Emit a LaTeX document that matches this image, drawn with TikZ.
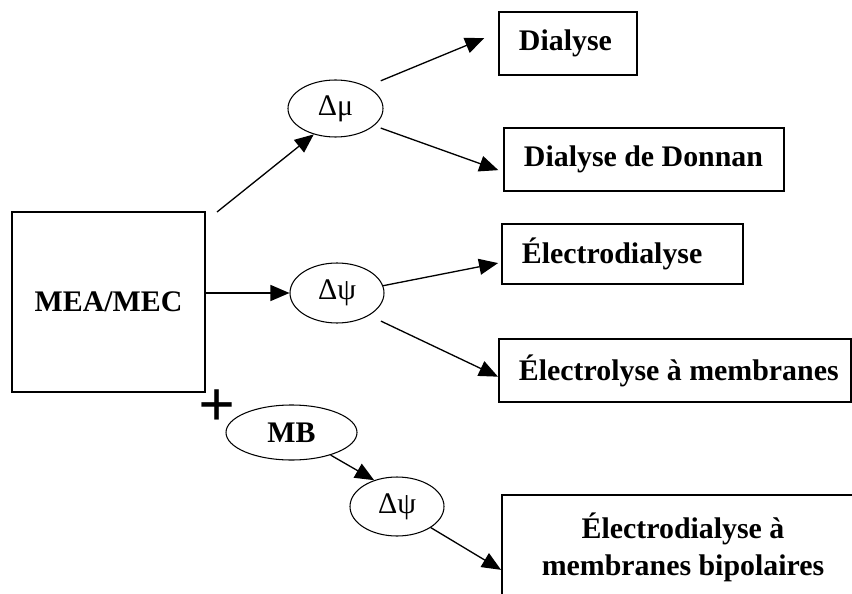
\documentclass[tikz,border=0pt]{standalone}
\usepackage{fontspec}
\setmainfont{Liberation Serif}
\usetikzlibrary{arrows.meta,shapes.geometric}

\begin{document}
\begin{tikzpicture}[
    every node/.style={font=\fontsize{17}{21}\selectfont},
    procbox/.style={draw, line width=1.1pt, font=\fontsize{17}{21}\selectfont\bfseries, inner xsep=0.4cm, inner ysep=0pt, minimum height=1.26cm, anchor=west},
    force/.style={draw, ellipse, line width=0.6pt, inner sep=0pt},
    flow/.style={-{Triangle[length=0.38cm,width=0.32cm]}, line width=0.75pt}
]
    \useasboundingbox (0,0) rectangle (17.04,11.86);
    \clip (0,0) rectangle (17.04,11.86);

    % membrane box
    \node[draw, line width=1.1pt, minimum width=3.86cm, minimum height=3.6cm, font=\fontsize{17}{21}\selectfont\bfseries] (mea) at (2.17,5.82) {MEA/MEC};
    \node[font=\fontsize{37}{37}\selectfont\bfseries, inner sep=0pt] (plus) at (4.34,3.7) {+};

    % driving forces
    \node[force, minimum width=1.9cm, minimum height=1.14cm] (dmu) at (6.71,9.69) {Δμ};
    \node[force, minimum width=1.88cm, minimum height=1.2cm] (dpsi) at (6.74,6.0) {Δψ};
    \node[force, minimum width=2.62cm, minimum height=1.1cm, font=\fontsize{17}{21}\selectfont\bfseries] (mb) at (5.83,3.21) {MB};
    \node[force, minimum width=1.88cm, minimum height=1.18cm] (dpsib) at (7.94,1.73) {Δψ};

    % processes
    \node[procbox] (dialyse) at (9.96,10.99) {\makebox[1.96cm][l]{Dialyse}};
    \node[procbox] (donnan) at (10.06,8.67) {\makebox[4.8cm][l]{Dialyse de Donnan}};
    \node[procbox, minimum height=1.2cm] (ed) at (10.02,6.78) {\makebox[4.02cm][l]{Électrodialyse}};
    \node[procbox] (elm) at (9.96,4.45) {\makebox[6.24cm][l]{Électrolyse à membranes}};
    \node[draw, line width=1.1pt, align=center, minimum width=7.24cm, minimum height=2.1cm, font=\fontsize{17}{21}\selectfont\bfseries] (edmb) at (13.66,0.91) {Électrodialyse à\\membranes bipolaires};

    % arrows
    \coordinate (mutail) at (4.34,7.62);
    \draw[flow] (mutail) -- (dmu.230);
    \draw[flow, shorten <=0.3cm, shorten >=0.3cm] (dmu.35) -- (dialyse.171);
    \draw[flow, shorten <=0.14cm, shorten >=0.1cm] (dmu.336) -- (donnan.185);

    \draw[flow] (dpsi.west -| mea.east) -- (dpsi.west);
    \draw[flow, shorten >=0.06cm] (dpsi.9) -- (ed.184);
    \draw[flow, shorten <=0.26cm] (dpsi.325) -- (elm.182);

    \draw[flow] (mb.330) -- (dpsib.131);
    \draw[flow] (dpsib.328) -- (edmb.187);
\end{tikzpicture}
\end{document}
